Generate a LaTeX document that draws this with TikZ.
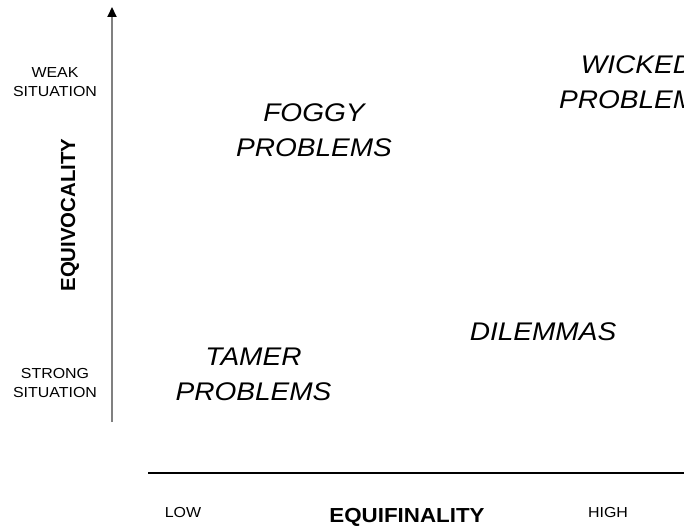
\documentclass[tikz,border=0pt]{standalone}
\usepackage{fontspec}
\setmainfont{Liberation Sans}
\newfontfamily\widefont[FakeStretch=1.1]{Liberation Sans}
\usetikzlibrary{arrows.meta}
\tikzstyle{quad}   = [font=\widefont\itshape\fontsize{25.5}{35}\selectfont, align=center, inner sep=0pt]
\tikzstyle{level}  = [font=\widefont\fontsize{14.5}{19}\selectfont, align=center, inner sep=0pt]
\tikzstyle{axis}   = [font=\widefont\bfseries\fontsize{20.3}{24}\selectfont, inner sep=0pt]
\tikzstyle{vaxis}  = [font=\bfseries\fontsize{20.4}{24}\selectfont, inner sep=0pt, rotate=90]
\tikzstyle{arrow}  = [line width=2pt, gray, -{Triangle[black,length=10pt,width=9pt]}]

\begin{document}
\begin{tikzpicture}[x=1pt,y=-1pt]
        \useasboundingbox (0,0) rectangle (684,529);
        \clip (0,0) rectangle (684,529);

        % axes
        \coordinate (vbot) at (112,422);
        \coordinate (vtop) at (112,7);
        \coordinate (hleft) at (148,473);
        \coordinate (hright) at (684,473);
        \draw[arrow] (vbot) -- (vtop);
        \draw[line width=1.5pt] (hleft) -- (hright);

        % quadrants
        \node[quad] (foggy) at (314,130.5) {FOGGY\\PROBLEMS};
        \node[quad] (wicked) at (637,82) {WICKED\\PROBLEMS};
        \node[quad] (dilemmas) at (543,332) {DILEMMAS};
        \node[quad] (tamer) at (253.5,374.5) {TAMER\\PROBLEMS};

        % axis labels
        \node[level] (weak) at (55,82) {WEAK\\SITUATION};
        \node[level] (strong) at (55,383) {STRONG\\SITUATION};
        \node[vaxis] (equivocality) at (70,215) {EQUIVOCALITY};
        \node[level] (low) at (183,513) {LOW};
        \node[axis] (equifinality) at (407,517) {EQUIFINALITY};
        \node[level] (high) at (608,513) {HIGH};
    \end{tikzpicture}
\end{document}
